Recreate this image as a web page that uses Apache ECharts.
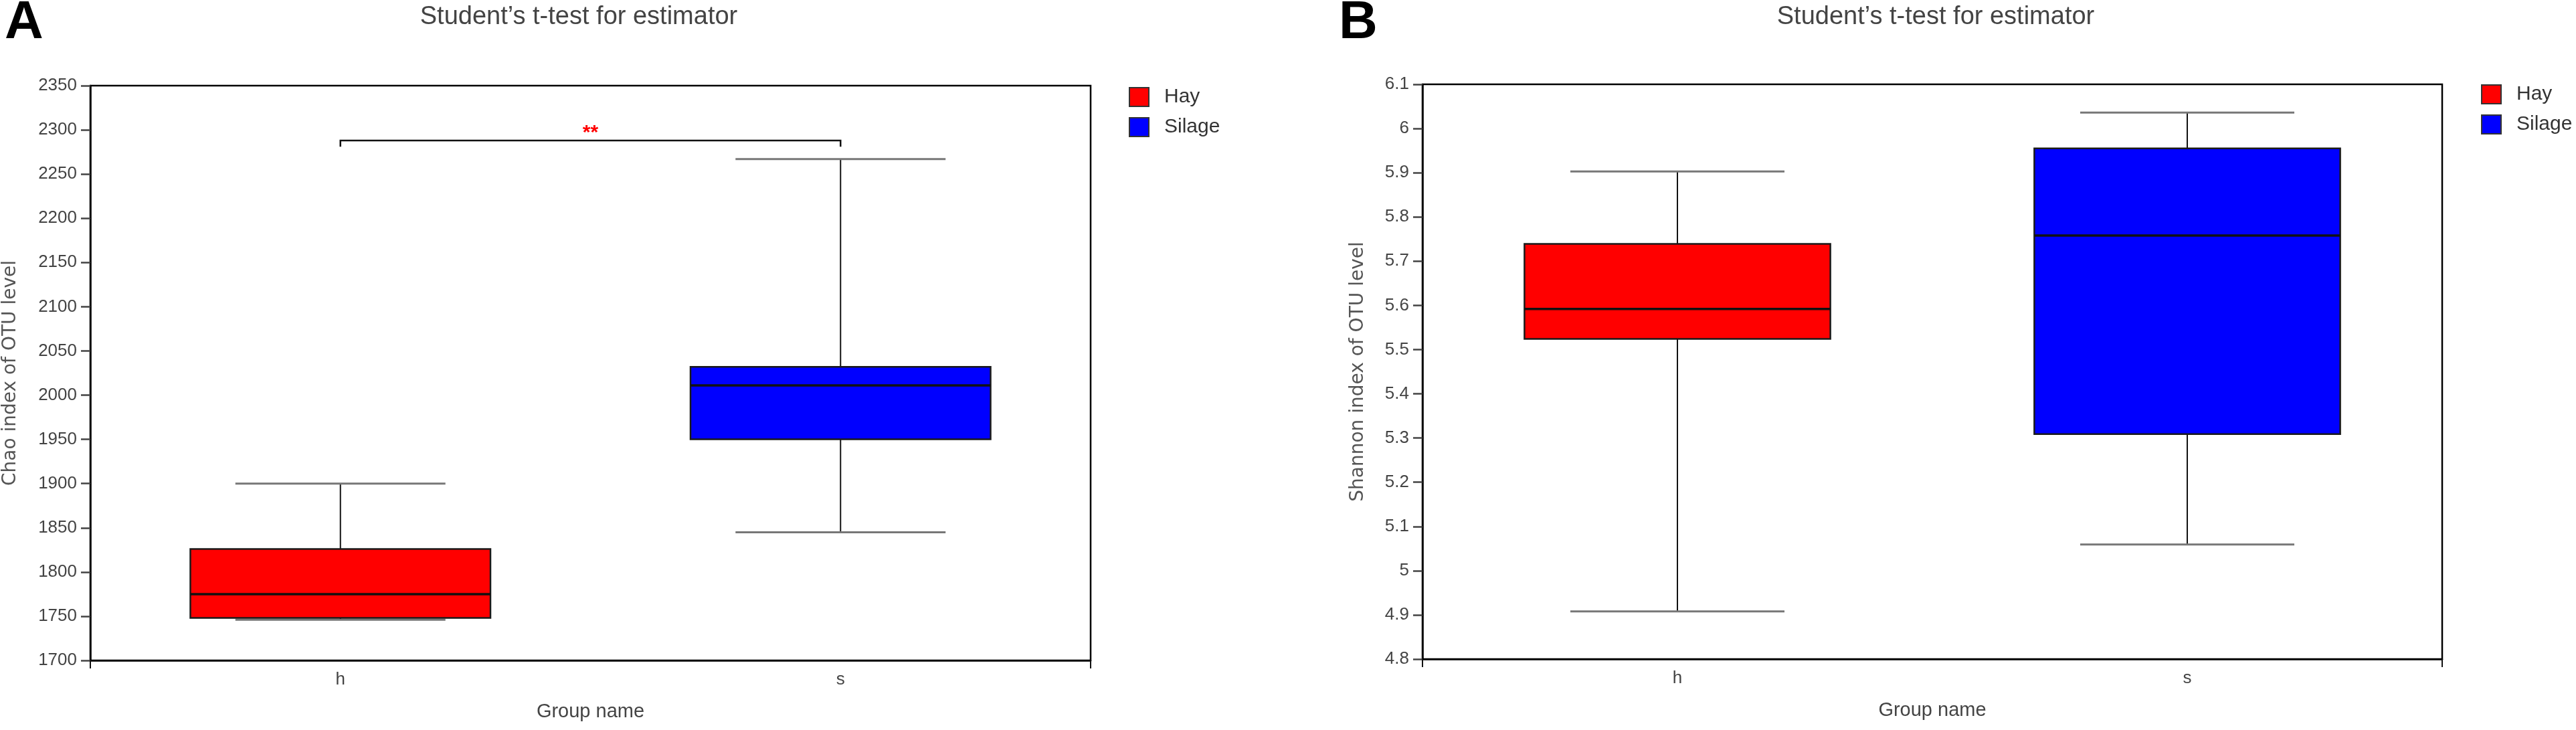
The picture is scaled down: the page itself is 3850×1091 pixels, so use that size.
<!DOCTYPE html>
<html>
<head>
    <meta charset="utf-8">
    <title>Student's t-test for estimator</title>
    <script src="https://cdn.jsdelivr.net/npm/echarts@6/dist/echarts.min.js"></script>
    <style>
        html, body { margin: 0; padding: 0; background: #fff; }
        #chart { width: 3850px; height: 1091px; }
    </style>
</head>
<body>
<div id="chart"></div>
<script type="text/javascript">
    // groups on the x axis
    var categories = ['h', 's'];
    var groupNames = ['Hay', 'Silage'];
    var groupColors = ['#ff0000', '#0000ff'];

    // box values: [min, q1, median, q3, max]
    var chaoHay = [1746, 1748, 1775, 1826, 1900];
    var chaoSilage = [1845, 1950, 2011, 2032, 2267];
    var shannonHay = [4.908, 5.524, 5.592, 5.739, 5.903];
    var shannonSilage = [5.059, 5.309, 5.758, 5.955, 6.036];

    // significance bracket for panel A: [from, to, line level, tick end]
    var chaoBracket = [0, 1, 2288, 2281];
    var chaoSigLabel = '**';

    var titleText = "Student\u2019s t-test for estimator";
    var font = 'Liberation Sans';

    var myChart = echarts.init(document.getElementById('chart'));

    function renderBox(params, api) {
        var x = api.value(0);
        var lo = api.coord([x, api.value(1)]);
        var q1 = api.coord([x, api.value(2)]);
        var med = api.coord([x, api.value(3)]);
        var q3 = api.coord([x, api.value(4)]);
        var hi = api.coord([x, api.value(5)]);
        var band = api.size([1, 0])[0];
        var bw = band * 0.6;
        var cw = band * 0.42;
        var cx = q3[0];
        return {
            type: 'group',
            children: [
                {type: 'line', shape: {x1: cx, y1: hi[1], x2: cx, y2: q3[1]}, style: {stroke: '#111', lineWidth: 2}},
                {type: 'line', shape: {x1: cx, y1: q1[1], x2: cx, y2: lo[1]}, style: {stroke: '#111', lineWidth: 2}},
                {type: 'line', shape: {x1: cx - cw / 2, y1: hi[1], x2: cx + cw / 2, y2: hi[1]}, style: {stroke: '#777', lineWidth: 3}},
                {type: 'line', shape: {x1: cx - cw / 2, y1: lo[1], x2: cx + cw / 2, y2: lo[1]}, style: {stroke: '#777', lineWidth: 3}},
                {type: 'rect', shape: {x: cx - bw / 2, y: q3[1], width: bw, height: q1[1] - q3[1]},
                    style: {fill: api.visual('color'), stroke: '#1a1a1a', lineWidth: 2.5}},
                {type: 'line', shape: {x1: cx - bw / 2, y1: med[1], x2: cx + bw / 2, y2: med[1]}, style: {stroke: '#111', lineWidth: 3.5}}
            ]
        };
    }

    function renderBracket(params, api) {
        var a = api.coord([api.value(0), api.value(2)]);
        var b = api.coord([api.value(1), api.value(2)]);
        var aEnd = api.coord([api.value(0), api.value(3)]);
        var bEnd = api.coord([api.value(1), api.value(3)]);
        return {
            type: 'group',
            children: [
                {type: 'polyline', shape: {points: [[aEnd[0], aEnd[1]], a, b, [bEnd[0], bEnd[1]]]},
                    style: {stroke: '#111', lineWidth: 2.5, fill: null}},
                {type: 'text', x: (a[0] + b[0]) / 2, y: a[1] + 4,
                    style: {text: chaoSigLabel, fill: '#ff0000', fontSize: 30, fontWeight: 'bold',
                        fontFamily: font, align: 'center', verticalAlign: 'bottom'}}
            ]
        };
    }

    function boxSeries(name, color, axisIdx, catIdx, values) {
        return {
            name: name,
            type: 'custom',
            xAxisIndex: axisIdx,
            yAxisIndex: axisIdx,
            itemStyle: {color: color},
            renderItem: renderBox,
            encode: {x: 0, y: [1, 2, 3, 4, 5]},
            data: [[catIdx].concat(values)],
            z: 3
        };
    }

    function catAxis(gridIdx) {
        return {
            type: 'category',
            gridIndex: gridIdx,
            data: categories,
            boundaryGap: true,
            axisLine: {onZero: false, lineStyle: {color: '#000', width: 2.5}},
            axisTick: {alignWithLabel: true, length: 12, lineStyle: {color: '#111', width: 2}},
            axisLabel: {fontSize: 26, color: '#444', fontFamily: font, margin: 16},
            name: 'Group name',
            nameLocation: 'middle',
            nameGap: 62,
            nameTextStyle: {fontSize: 29, color: '#444', fontFamily: font}
        };
    }

    // second bottom axis only to place the ticks at both plot edges
    function edgeAxis(gridIdx) {
        return {
            type: 'value',
            gridIndex: gridIdx,
            position: 'bottom',
            min: -0.5,
            max: 1.5,
            interval: 2,
            axisLine: {show: false, onZero: false},
            axisTick: {show: true, length: 12, lineStyle: {color: '#111', width: 2}},
            axisLabel: {show: false},
            splitLine: {show: false}
        };
    }

    function valAxis(gridIdx, min, max, interval, name, gap) {
        return {
            type: 'value',
            gridIndex: gridIdx,
            min: min,
            max: max,
            interval: interval,
            axisLine: {show: true, onZero: false, lineStyle: {color: '#000', width: 2.5}},
            axisTick: {show: true, length: 14, lineStyle: {color: '#444', width: 2.5}},
            axisLabel: {fontSize: 26, color: '#444', fontFamily: font, margin: 20,
                formatter: function (v) { return String(Math.round(v * 1000) / 1000); }},
            splitLine: {show: false},
            name: name,
            nameLocation: 'middle',
            nameGap: gap,
            nameTextStyle: {fontSize: 28, color: '#555', fontFamily: 'DejaVu Sans'}
        };
    }

    function legendAt(left, top) {
        return {
            orient: 'vertical',
            left: left,
            top: top,
            data: groupNames,
            icon: 'rect',
            itemWidth: 29,
            itemHeight: 28,
            itemGap: 15,
            itemStyle: {borderColor: '#333', borderWidth: 2},
            textStyle: {fontSize: 30, color: '#333', fontFamily: font, padding: [0, 0, 0, 18]}
        };
    }

    myChart.setOption({
        backgroundColor: '#fff',
        animation: false,
        title: [
            {text: 'A', left: 2, top: -10, textStyle: {fontSize: 80, fontWeight: 'bold', color: '#000', fontFamily: font}},
            {text: 'B', left: 1996, top: -10, textStyle: {fontSize: 80, fontWeight: 'bold', color: '#000', fontFamily: font}},
            {text: titleText, left: 860, top: 2, textAlign: 'center',
                textStyle: {fontSize: 38, fontWeight: 'normal', color: '#444', fontFamily: font}},
            {text: titleText, left: 2888, top: 2, textAlign: 'center',
                textStyle: {fontSize: 38, fontWeight: 'normal', color: '#444', fontFamily: font}}
        ],
        legend: [legendAt(1682, 125), legendAt(3703, 121)],
        grid: [
            {left: 135, top: 128, width: 1495, height: 859, show: true, borderColor: '#000', borderWidth: 2.5, backgroundColor: 'transparent'},
            {left: 2126, top: 126, width: 1524, height: 859, show: true, borderColor: '#000', borderWidth: 2.5, backgroundColor: 'transparent'}
        ],
        xAxis: [catAxis(0), catAxis(1), edgeAxis(0), edgeAxis(1)],
        yAxis: [
            valAxis(0, 1700, 2350, 50, 'Chao index of OTU level', 105),
            valAxis(1, 4.8, 6.1, 0.1, 'Shannon index of OTU level', 82)
        ],
        series: [
            boxSeries(groupNames[0], groupColors[0], 0, 0, chaoHay),
            boxSeries(groupNames[1], groupColors[1], 0, 1, chaoSilage),
            boxSeries(groupNames[0], groupColors[0], 1, 0, shannonHay),
            boxSeries(groupNames[1], groupColors[1], 1, 1, shannonSilage),
            {
                type: 'custom',
                xAxisIndex: 0,
                yAxisIndex: 0,
                renderItem: renderBracket,
                encode: {x: [0, 1], y: [2, 3]},
                data: [chaoBracket],
                z: 4
            }
        ]
    });
</script>
</body>
</html>
